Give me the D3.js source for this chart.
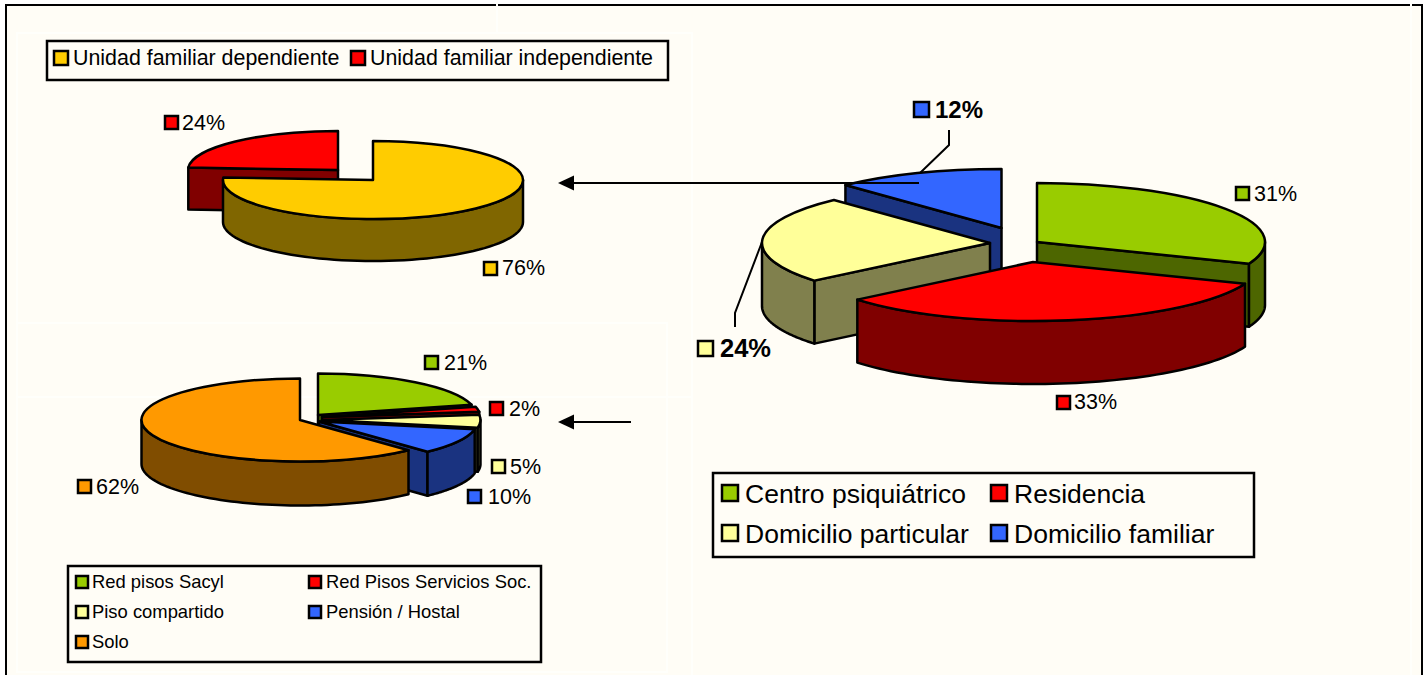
<!DOCTYPE html>
<html><head><meta charset="utf-8"><style>
html,body{margin:0;padding:0;background:#fff}
svg{display:block}
text{font-family:"Liberation Sans",Arial,sans-serif;fill:#000}
</style></head><body>
<svg id="c" width="1427" height="675"></svg>
<script src="https://cdn.jsdelivr.net/npm/d3@7/dist/d3.min.js"></script>
<script>
// DATA
const famCategories = ["Unidad familiar dependiente","Unidad familiar independiente"];
const famValues = [76,24];
const pisoCategories = ["Red pisos Sacyl","Red Pisos Servicios Soc.","Piso compartido","Pensión / Hostal","Solo"];
const pisoValues = [21,2,5,10,62];
const mainCategories = ["Centro psiquiátrico","Residencia","Domicilio particular","Domicilio familiar"];
const mainValues = [31,33,24,12];

// STYLE / LAYOUT
const C = {yellow:"#FFCC00",red:"#FF0000",green:"#99CC00",pale:"#FFFF99",blue:"#3366FF",orange:"#FF9900"};
const famColors=[C.yellow,C.red], pisoColors=[C.green,C.red,C.pale,C.blue,C.orange], mainColors=[C.green,C.red,C.pale,C.blue];
const svg=d3.select("#c");
const darken=c=>{const r=d3.rgb(c);return d3.rgb(r.r/2,r.g/2,r.b/2).formatHex();};
const lineGen=d3.line();
const SW=2.5;

// background and faint panel outlines
const bgPanel="#FFFDF6", faint="#FFFFFB";
svg.append("rect").attr("x",6).attr("y",5).attr("width",1416).attr("height",670).attr("fill",bgPanel);
[[17,33,675,364],[17,323,650,349]].forEach(r=>
  svg.append("rect").attr("x",r[0]).attr("y",r[1]).attr("width",r[2]).attr("height",r[3]).attr("fill","none").attr("stroke",faint).attr("stroke-width",2));
[[[497,0],[497,33]],[[1411,0],[1411,675]],[[692,397],[692,675]]].forEach(p=>
  svg.append("path").attr("d",lineGen(p)).attr("fill","none").attr("stroke",faint).attr("stroke-width",2));
// frame
[[[6,675],[6,5],[496,5]],[[498,5],[1410,5]],[[1412,5],[1422,5],[1422,675]]].forEach(p=>
  svg.append("path").attr("d",lineGen(p)).attr("fill","none").attr("stroke","#000").attr("stroke-width",2));

function pie3d(opts){
  const {values,colors,rx,ry,depth,centers,order}=opts;
  const arcs=d3.pie().sort(null)(values);
  const g=svg.append("g");
  const arcGen=d3.arc().innerRadius(0).outerRadius(rx);
  const style=s=>s.attr("stroke","#000").attr("stroke-width",SW).attr("stroke-linejoin","round");
  order.forEach(i=>{
    const a=arcs[i], [cx,cy]=centers[i], col=colors[i], dark=darken(col);
    const P=(t,d=0)=>[cx+rx*Math.sin(t),cy-ry*Math.cos(t)+d];
    // radial walls that face the viewer only
    [[a.startAngle,-1],[a.endAngle,1]].forEach(([t,side])=>{
      if(side*Math.sin(t)<=1e-6) return;
      const e=P(t);
      style(g.append("path").attr("d",lineGen([[cx,cy],e,[e[0],e[1]+depth],[cx,cy+depth]])+"Z").attr("fill",dark));
    });
    // outer wall: only the part facing the viewer
    const lo=Math.max(a.startAngle,Math.PI/2), hi=Math.min(a.endAngle,Math.PI*1.5);
    if(hi>lo){
      const ts=d3.range(0,61).map(k=>lo+(hi-lo)*k/60);
      const pts=ts.map(t=>P(t)).concat(ts.slice().reverse().map(t=>P(t,depth)));
      style(g.append("path").attr("d",lineGen(pts)+"Z").attr("fill",dark));
    }
    // top face
    style(g.append("path")
      .attr("transform",`translate(${cx},${cy}) scale(1,${ry/rx})`)
      .attr("vector-effect","non-scaling-stroke")
      .attr("d",arcGen(a)).attr("fill",col));
  });
}

pie3d({values:famValues,colors:famColors,rx:150,ry:39,depth:42,centers:[[373,180],[338,170]],order:[1,0]});
pie3d({values:pisoValues,colors:pisoColors,rx:158.5,ry:41.5,depth:44,
  centers:[[318,415],[322,417],[322,420],[319,421.5],[300,420]],order:[0,1,2,3,4]});
pie3d({values:mainValues,colors:mainColors,rx:228,ry:59,depth:63,
  centers:[[1037,242],[1033,262],[990,243],[1001.5,228]],order:[3,0,2,1]});

// swatch + text helper
function swatch(x,y,s,col){svg.append("rect").attr("x",x+1).attr("y",y+1).attr("width",s-2).attr("height",s-2).attr("fill",col).attr("stroke","#000").attr("stroke-width",SW);}
function label(x,y,s,col,tx,base,txt,size,bold){
  swatch(x,y,s,col);
  svg.append("text").attr("x",tx).attr("y",base).attr("font-size",size).attr("font-weight",bold?"bold":"normal").text(txt);
}
const pct=v=>v+"%";
label(164,115,15,famColors[1],182,130,pct(famValues[1]),21.5);
label(483,261,15,famColors[0],502,275,pct(famValues[0]),21.5);
[[424,355,444,370],[489,401,509,416],[491,459,510,474],[467,489,488,504],[77,479,96,494]].forEach((p,i)=>
  label(p[0],p[1],15,pisoColors[i],p[2],p[3],pct(pisoValues[i]),21.5));
label(1235,186,15,mainColors[0],1254,201,pct(mainValues[0]),21.5);
label(1056,395,15,mainColors[1],1074,409,pct(mainValues[1]),21.5);
label(697,340,17,mainColors[2],720,357,pct(mainValues[2]),25.5,true);
label(913,101,17,mainColors[3],935,118,pct(mainValues[3]),24,true);

// leaders
[[[949,130],[949,145],[920,173]],[[735,327],[735,313],[762,242]]].forEach(p=>
  svg.append("path").attr("d",lineGen(p)).attr("fill","none").attr("stroke","#000").attr("stroke-width",2));

// arrows
[[919,183],[631,422]].forEach(([x0,y])=>{
  svg.append("path").attr("d",lineGen([[x0,y],[572,y]])).attr("stroke","#000").attr("stroke-width",2).attr("fill","none");
  svg.append("path").attr("d",lineGen([[558,y],[574,y-7.5],[574,y+7.5]])+"Z").attr("fill","#000");
});

// legends
function box(x0,y0,x1,y1){svg.append("rect").attr("x",x0).attr("y",y0).attr("width",x1-x0).attr("height",y1-y0).attr("fill",bgPanel).attr("stroke","#000").attr("stroke-width",SW);}
box(47,41,668,80);
label(53,50,16,famColors[0],73,65,famCategories[0],21.4);
label(350,50,16,famColors[1],370,65,famCategories[1],21.4);
box(68,566,541,662);
[[75,575,92,588],[308,575,326,588],[75,605,92,618],[308,605,326,618],[75,635,92,648]].forEach((p,i)=>
  label(p[0],p[1],14,pisoColors[i],p[2],p[3],pisoCategories[i],18.4));
box(713,473,1254,557);
[[721,484,745,503],[990,484,1014,503],[721,524,745,543],[990,524,1014,543]].forEach((p,i)=>
  label(p[0],p[1],18,mainColors[i],p[2],p[3],mainCategories[i],26.5));
</script></body></html>
